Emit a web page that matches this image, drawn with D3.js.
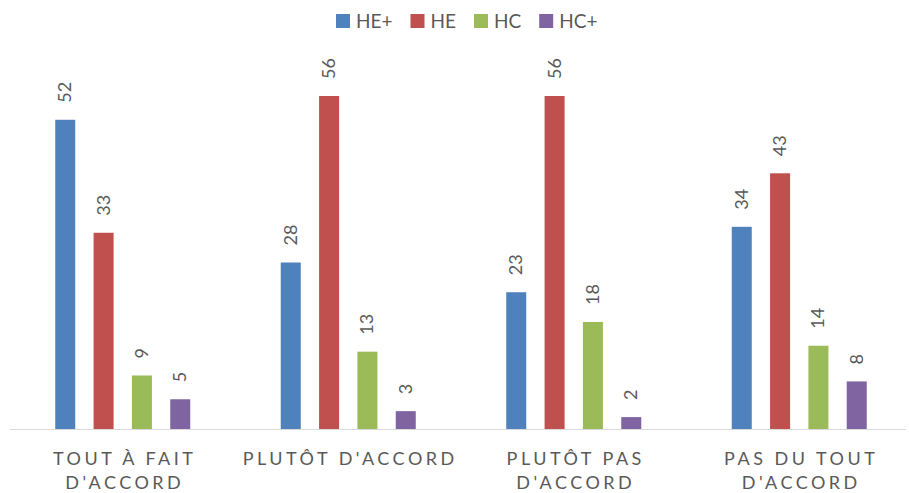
<!DOCTYPE html>
<html><head><meta charset="utf-8">
<script src="https://cdn.jsdelivr.net/npm/d3@7/dist/d3.min.js"></script>
<style>body{margin:0;background:#fff}svg{display:block}text{font-family:Lato,"Open Sans",sans-serif;fill:#595959}</style>
</head><body><svg id="c" width="909" height="493"></svg>
<script>
const categories = [["TOUT À FAIT","D'ACCORD"],["PLUTÔT D'ACCORD"],["PLUTÔT PAS","D'ACCORD"],["PAS DU TOUT","D'ACCORD"]];
const series = ["HE+","HE","HC","HC+"];
const colors = ["#4F81BD","#C0504D","#9BBB59","#8064A2"];
const valHEp = [52,28,23,34];
const valHE = [33,56,56,43];
const valHC = [9,13,18,14];
const valHCp = [5,3,2,8];
const values = [valHEp, valHE, valHC, valHCp];

const svg = d3.select("#c");
const catIdx = d3.range(categories.length);
const x0 = d3.scaleBand().domain(catIdx).range([10, 912]).paddingInner(0.32).paddingOuter(0.16);
const x1 = d3.scaleBand().domain(series).range([0, x0.bandwidth()]).paddingInner(0.478).paddingOuter(0.239);
const y = d3.scaleLinear().domain([0, 60]).range([429, 72.2]);

const g = svg.append("g");
catIdx.forEach(ci => {
  series.forEach((s, si) => {
    const v = values[si][ci];
    const bx = x0(ci) + x1(s);
    g.append("rect").attr("x", bx).attr("y", y(v)).attr("width", x1.bandwidth()).attr("height", y(0) - y(v)).attr("fill", colors[si]);
    g.append("text").attr("transform", `translate(${bx + x1.bandwidth()/2 + 6},${y(v) - 17}) rotate(-90)`)
      .attr("text-anchor", "start").attr("font-size", 18).text(v);
  });
});

svg.append("line").attr("x1", 10).attr("x2", 906).attr("y1", 429.5).attr("y2", 429.5).attr("stroke", "#d9d9d9").attr("stroke-width", 1);

catIdx.forEach(ci => {
  const cx = x0(ci) + x0.bandwidth()/2 + 2;
  categories[ci].forEach((line, li) => {
    svg.append("text").attr("x", cx).attr("y", 465 + li*24).attr("text-anchor", "middle")
      .attr("font-size", 18).attr("letter-spacing", 3.5).text(line);
  });
});

// legend
const lg = svg.append("g");
let lx = 336;
series.forEach((s, si) => {
  lg.append("rect").attr("x", lx).attr("y", 14).attr("width", 14).attr("height", 14).attr("fill", colors[si]);
  const t = lg.append("text").attr("x", lx + 20).attr("y", 28).attr("font-size", 19).text(s);
  lx += 20 + t.node().getComputedTextLength() + 18;
});
</script></body></html>
